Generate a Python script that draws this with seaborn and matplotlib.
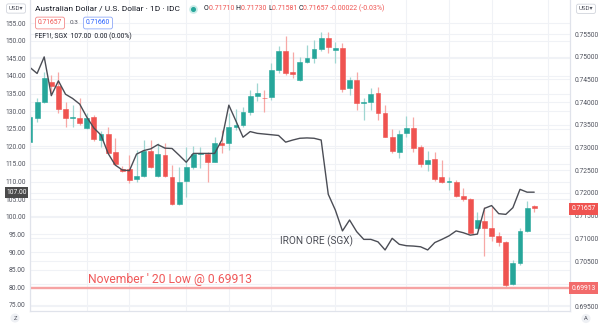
import numpy as np
import pandas as pd
import matplotlib
matplotlib.use("Agg")
import matplotlib.pyplot as plt
import matplotlib.transforms as mtransforms
from matplotlib.lines import Line2D
import seaborn as sns

# ---------------- data ----------------
start_date = "2021-09-01"
end_date = "2021-12-09"

aud_open = [0.7313, 0.7366, 0.7400, 0.7444, 0.7436, 0.7384, 0.7364, 0.7366, 0.7344, 0.7367,
            0.7317, 0.7329, 0.7290, 0.7252, 0.7252, 0.7230, 0.7237, 0.7293, 0.7237, 0.7284,
            0.7236, 0.7176, 0.7226, 0.7256, 0.7285, 0.7286, 0.7269, 0.7309, 0.7309, 0.7346,
            0.7350, 0.7379, 0.7414, 0.7410, 0.7411, 0.7471, 0.7513, 0.7466, 0.7449, 0.7489,
            0.7498, 0.7517, 0.7542, 0.7515, 0.7519, 0.7430, 0.7449, 0.7399, 0.7401, 0.7421,
            0.7375, 0.7324, 0.7291, 0.7331, 0.7342, 0.7301, 0.7263, 0.7274, 0.7234, 0.7224,
            0.7225, 0.7194, 0.7187, 0.7122, 0.7138, 0.7123, 0.7104, 0.7091, 0.6999, 0.7046,
            0.7116, 0.71710]
aud_high = [0.7372, 0.7408, 0.7466, 0.7459, 0.7467, 0.7400, 0.7394, 0.7408, 0.7375, 0.7372,
            0.7336, 0.7346, 0.7320, 0.7259, 0.7284, 0.7295, 0.7317, 0.7317, 0.7309, 0.7309,
            0.7262, 0.7258, 0.7302, 0.7303, 0.7302, 0.7291, 0.7324, 0.7339, 0.7375, 0.7384,
            0.7390, 0.7427, 0.7441, 0.7427, 0.7486, 0.7524, 0.7546, 0.7511, 0.7500, 0.7526,
            0.7537, 0.7555, 0.7555, 0.7533, 0.7530, 0.7456, 0.7467, 0.7408, 0.7430, 0.7434,
            0.7394, 0.7340, 0.7339, 0.7369, 0.7368, 0.7306, 0.7292, 0.7291, 0.7273, 0.7236,
            0.7228, 0.7210, 0.7188, 0.7159, 0.7168, 0.7170, 0.7115, 0.7093, 0.7052, 0.7122,
            0.7183, 0.71730]
aud_low = [0.7312, 0.7357, 0.7397, 0.7418, 0.7375, 0.7345, 0.7345, 0.7350, 0.7340, 0.7314,
           0.7302, 0.7287, 0.7262, 0.7246, 0.7221, 0.7225, 0.7236, 0.7254, 0.7236, 0.7236,
           0.7173, 0.7173, 0.7192, 0.7252, 0.7254, 0.7225, 0.7267, 0.7289, 0.7295, 0.7339,
           0.7346, 0.7372, 0.7403, 0.7379, 0.7405, 0.7465, 0.7460, 0.7452, 0.7447, 0.7486,
           0.7487, 0.7513, 0.7508, 0.7486, 0.7423, 0.7416, 0.7383, 0.7361, 0.7383, 0.7361,
           0.7323, 0.7287, 0.7276, 0.7324, 0.7291, 0.7258, 0.7249, 0.7226, 0.7221, 0.7206,
           0.7191, 0.7183, 0.7111, 0.7121, 0.7062, 0.7093, 0.7084, 0.6991, 0.6997, 0.7041,
           0.7115, 0.71581]
aud_close = [0.7368, 0.7401, 0.7454, 0.7436, 0.7384, 0.7364, 0.7368, 0.7355, 0.7366, 0.7318,
             0.7329, 0.7289, 0.7264, 0.7249, 0.7228, 0.7237, 0.7293, 0.7257, 0.7286, 0.7237,
             0.7176, 0.7225, 0.7256, 0.7286, 0.7287, 0.7269, 0.7311, 0.7306, 0.7346, 0.7350,
             0.7379, 0.7414, 0.7421, 0.7408, 0.7471, 0.7513, 0.7465, 0.7463, 0.7488, 0.7497,
             0.7516, 0.7541, 0.7521, 0.7519, 0.7428, 0.7449, 0.7397, 0.7401, 0.7418, 0.7375,
             0.7324, 0.7292, 0.7329, 0.7342, 0.7300, 0.7264, 0.7273, 0.7230, 0.7223, 0.7226,
             0.7194, 0.7186, 0.7112, 0.7140, 0.7123, 0.7104, 0.7092, 0.6997, 0.7046, 0.7116,
             0.7166, 0.71657]

iron_ore = [142.4, 140.7, 145.4, 134.4, 138.6, 134.8, 133.6, 132.0, 128.3, 125.2,
            123.2, 118.0, 114.7, 113.3, 113.1, 117.8, 118.8, 119.3, 120.5, 119.5,
            119.4, 117.5, 115.5, 118.0, 118.0, 118.0, 118.0, 121.8, 131.7, 127.2,
            122.6, 124.2, 123.7, 123.5, 123.3, 123.1, 121.2, 121.8, 122.3, 122.4,
            122.3, 121.8, 106.4, 101.9, 96.0, 99.1, 95.8, 93.6, 93.6, 92.9,
            90.6, 93.9, 92.2, 91.8, 91.7, 91.5, 90.6, 92.7, 93.6, 94.6,
            96.0, 95.5, 94.8, 95.1, 102.4, 103.2, 100.9, 100.7, 102.6, 107.8,
            107.0, 107.0]

tick_dates = ["2021-09-01", "2021-09-13", "2021-09-21", "2021-10-01", "2021-10-11",
              "2021-10-19", "2021-11-01", "2021-11-15", "2021-11-23", "2021-12-01", "2021-12-13"]
tick_labels = ["Sep", "13", "21", "Oct", "11", "19", "Nov", "15", "23", "Dec", "13"]

left_ticks = np.arange(75, 156, 5)
right_ticks = np.arange(0.695, 0.7551, 0.005)

nov20_low = 0.69913
iron_last = 107.00
aud_last = 0.71657

# ---------------- build frame ----------------
days = pd.bdate_range(start_date, end_date)
df = pd.DataFrame({"date": days, "open": aud_open, "high": aud_high,
                   "low": aud_low, "close": aud_close, "iron": iron_ore})
df["pos"] = np.arange(len(df))
all_days = pd.bdate_range(start_date, "2021-12-31")
tick_pos = [all_days.get_loc(pd.Timestamp(d)) for d in tick_dates]

sns.set_theme(style="white")
plt.rcParams['font.family'] = ['Roboto', 'DejaVu Sans']

GREEN = "#26a69a"
RED = "#ef5350"
GREEN_W = "#9fd6d1"
RED_W = "#f7a8a6"
GRID = "#f0f2f6"
TXT = "#131722"
AX_TXT = "#50535e"

W, H = 602, 327
fig = plt.figure(figsize=(W / 100, H / 100), dpi=100)
fig.patch.set_facecolor("white")
ax = fig.add_axes([30 / W, 16 / H, 540 / W, 311 / H])
ax.set_xlim(0.2, 76.04)
ax.set_ylim(0.69399, 0.76249)
axl = ax.twinx()
axl.set_ylim(73.27, 161.55)
axl.set_xlim(0.2, 76.04)

# grid (drawn on bottom axes)
for tp in tick_pos:
    ax.axvline(tp, color=GRID, lw=0.8, zorder=0)
for v in right_ticks:
    ax.axhline(v, color=GRID, lw=0.8, zorder=0)
blend = mtransforms.blended_transform_factory(ax.transAxes, axl.transData)
for v in left_ticks:
    ax.plot([0, 1], [v, v], transform=blend, color=GRID, lw=0.8, zorder=0)

# candles
up = df["close"] >= df["open"]
body_col = np.where(up, GREEN, RED)
wick_col = np.where(up, GREEN_W, RED_W)
ax.vlines(df["pos"], df["low"], df["high"], colors=wick_col, lw=0.9, zorder=2)
ax.bar(df["pos"], (df["close"] - df["open"]).abs(), bottom=df[["open", "close"]].min(axis=1),
       width=0.68, color=body_col, edgecolor=body_col, linewidth=0.4, zorder=3)

# November '20 low
ax.axhline(nov20_low, color="#f6a3a3", lw=1.7, zorder=4)
ax.text(8.2, 0.7009, "November ' 20 Low @ 0.69913", color="#f0595a", fontsize=8.7,
        va="center", ha="left", zorder=5)

# iron ore line (left axis) on top
axl.set_zorder(ax.get_zorder() + 1)
axl.patch.set_visible(False)
sns.lineplot(data=df, x="pos", y="iron", ax=axl, color="#4b4d55", lw=1.0)
axl.text(35.2, 93.2, "IRON ORE (SGX)", color="#4b4d55", fontsize=7.2, va="center", ha="left")

# axes styling
ax.yaxis.tick_right()
axl.yaxis.tick_left()
axl.yaxis.set_label_position("left")
ax.set_yticks(right_ticks)
# the 0.70000 label sits under the 0.69913 marker box in the reference
ax.set_yticklabels(["" if abs(v - 0.700) < 1e-9 else f"{v:.5f}" for v in right_ticks])
axl.set_yticks(left_ticks)
axl.set_yticklabels([f"{v:.2f}" for v in left_ticks])
ax.set_xticks(tick_pos)
ax.set_xticklabels(tick_labels)
axl.set_xticks([])
ax.tick_params(axis="y", length=0, pad=3.0, labelsize=4.9, labelcolor=AX_TXT)
axl.tick_params(axis="y", length=0, pad=3.0, labelsize=4.9, labelcolor=AX_TXT)
ax.tick_params(axis="x", length=0, pad=5.0, labelsize=4.9, labelcolor=AX_TXT)
for a in (ax, axl):
    a.set_xlabel("")
    a.set_ylabel("")
    a.spines["top"].set_visible(False)
    for s in ("left", "right", "bottom"):
        a.spines[s].set_color("#e0e3eb")
        a.spines[s].set_linewidth(0.8)

def fx(x):
    return x / W

def fy(y):
    return 1 - y / H

# value labels on scales
fig.text(fx(16.5), fy(192.7), "107.00", fontsize=4.9, color="white", ha="center", va="center",
         bbox=dict(boxstyle="square,pad=0.25", fc="#4a4a4a", ec="none"))
fig.text(fx(583.5), fy(209), "0.71657", fontsize=4.9, color="white", ha="center", va="center",
         bbox=dict(boxstyle="square,pad=0.3", fc=RED, ec="none"))
fig.text(fx(583.5), fy(288), "0.69913", fontsize=4.9, color="white", ha="center", va="center",
         bbox=dict(boxstyle="square,pad=0.3", fc="#f26b6b", ec="none"))

# corner buttons
for (x, y, s) in [(16, 8.5, "USD\u25be"), (586, 8.8, "USD\u25be")]:
    fig.text(fx(x), fy(y), s, fontsize=4.4, color=AX_TXT, ha="center", va="center",
             bbox=dict(boxstyle="round,pad=0.35,rounding_size=0.3", fc="white", ec="#d1d4dc", lw=0.6))
for (x, y, s) in [(15, 318, "Z"), (586, 318.5, "A")]:
    fig.text(fx(x), fy(y), s, fontsize=4.2, color=AX_TXT, ha="center", va="center",
             bbox=dict(boxstyle="circle,pad=0.35", fc="#eef0f4", ec="none"))

# header line 1
fig.text(fx(35), fy(8.5), "Australian Dollar / U.S. Dollar \u00b7 1D \u00b7 IDC", fontsize=6.0,
         color=TXT, ha="left", va="center")
fig.add_artist(Line2D([fx(192.5)], [fy(8.5)], marker="o", ms=5.2, color="#c9ebe7",
                      transform=fig.transFigure))
fig.add_artist(Line2D([fx(192.5)], [fy(8.5)], marker="o", ms=2.6, color=GREEN,
                      transform=fig.transFigure))

renderer = fig.canvas.get_renderer()
pieces = [("O", TXT), ("0.71710 ", RED), ("H", TXT), ("0.71730 ", RED), ("L", TXT),
          ("0.71581 ", RED), ("C", TXT), ("0.71657 -0.00022 (-0.03%)", RED)]
xcur = 204.0
for s, c in pieces:
    t = fig.text(fx(xcur), fy(8.5), s, fontsize=5.0, color=c, ha="left", va="center")
    bb = t.get_window_extent(renderer=renderer)
    xcur += bb.width

# header line 2
fig.text(fx(50), fy(23), "0.71657", fontsize=4.9, color=RED, ha="center", va="center",
         bbox=dict(boxstyle="round,pad=0.35,rounding_size=0.3", fc="white", ec="#f28b8b", lw=0.6))
fig.text(fx(74.5), fy(23), "0.3", fontsize=4.6, color=AX_TXT, ha="center", va="center")
fig.text(fx(98), fy(23), "0.71660", fontsize=4.9, color="#2962ff", ha="center", va="center",
         bbox=dict(boxstyle="round,pad=0.35,rounding_size=0.3", fc="white", ec="#8fa8f7", lw=0.6))

# header line 3
fig.text(fx(35), fy(36), "FEF1!, SGX  107.00  0.00 (0.00%)", fontsize=4.9, color=TXT,
         ha="left", va="center")

fig.savefig("out.png", dpi=100, facecolor="white")
